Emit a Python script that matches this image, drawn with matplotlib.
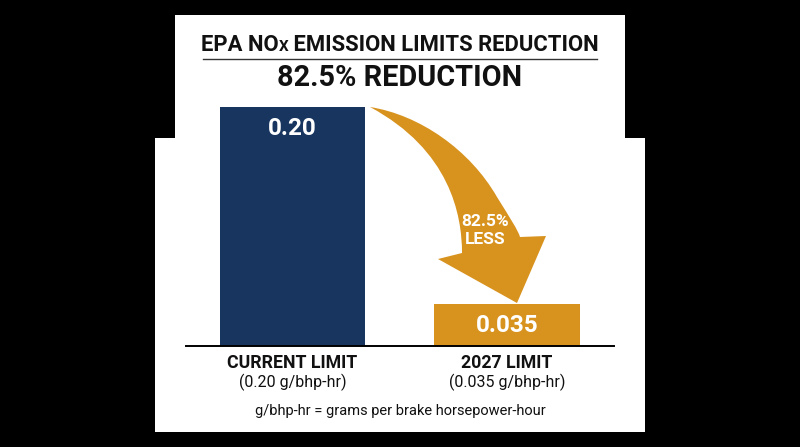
import numpy as np
import matplotlib.pyplot as plt
from matplotlib.patches import Polygon, PathPatch
from matplotlib.path import Path

plt.rcParams['font.family'] = ['Roboto', 'DejaVu Sans']

categories = ['CURRENT LIMIT', '2027 LIMIT']
sublabels = ['(0.20 g/bhp-hr)', '(0.035 g/bhp-hr)']
values = [0.20, 0.035]
value_labels = ['0.20', '0.035']
bar_colors = ['#17355f', '#d8931f']
reduction = 82.5

W, H = 800, 447
fig = plt.figure(figsize=(8, 4.47), dpi=100, facecolor='black')

# overlay axes in pixel coordinates (y down) for panel, arrow and texts
bg = fig.add_axes([0, 0, 1, 1])
bg.set_xlim(0, W)
bg.set_ylim(H, 0)
bg.axis('off')
bg.set_facecolor('black')
panel = [(175, 15), (625, 15), (625, 138), (645, 138), (645, 432),
         (155, 432), (155, 138), (175, 138)]
bg.add_patch(Polygon(panel, closed=True, facecolor='white', edgecolor='none', zorder=0))

# bar axes
ax = fig.add_axes([186 / W, 1 - 346 / H, (614 - 186) / W, (346 - 107) / H])
ax.patch.set_alpha(0)
x = np.arange(len(values))
ax.bar(x, values, width=0.68, color=bar_colors, zorder=2)
ax.set_xlim(-0.4965, 1.499)
ax.set_ylim(0, 0.2)
for s in ['top', 'right', 'left']:
    ax.spines[s].set_visible(False)
ax.spines['bottom'].set_linewidth(1.4)
ax.set_xticks([])
ax.set_yticks([])
for xi, v, lab in zip(x, values, value_labels):
    ax.annotate(lab, (xi, v), xytext=(0, -15.5), textcoords='offset points',
                ha='center', va='center', color='white', fontsize=17.5, fontweight='bold')
for xi, c, s in zip(x, categories, sublabels):
    ax.annotate(c, (xi, 0), xytext=(0, -12.5), textcoords='offset points',
                ha='center', va='center', color='#111111', fontsize=12.8, fontweight='bold')
    ax.annotate(s, (xi, 0), xytext=(0, -26), textcoords='offset points',
                ha='center', va='center', color='#111111', fontsize=11.5)

# curved arrow (pixel coords)
verts = [(370, 107),
         (420, 115), (470, 150), (497, 197),
         (510, 218), (518, 230), (520, 237),
         (546, 236), (517, 303), (438, 259), (462, 253),
         (462, 215), (450, 150), (370, 107)]
codes = [Path.MOVETO,
         Path.CURVE4, Path.CURVE4, Path.CURVE4,
         Path.CURVE4, Path.CURVE4, Path.CURVE4,
         Path.LINETO, Path.LINETO, Path.LINETO, Path.LINETO,
         Path.CURVE4, Path.CURVE4, Path.CURVE4]
bg.add_patch(PathPatch(Path(verts, codes), facecolor=bar_colors[1], edgecolor='none', zorder=3))
bg.text(485, 222, f'{reduction}%', ha='center', va='center', color='white',
        fontsize=12.5, fontweight='bold', zorder=4)
bg.text(485, 240, 'LESS', ha='center', va='center', color='white',
        fontsize=12.5, fontweight='bold', zorder=4)

# title with small X in NOx
renderer = fig.canvas.get_renderer()
parts = [('EPA NO', 15.8), ('X', 11), (' EMISSION LIMITS REDUCTION', 15.8)]
objs = []
for txt, fs in parts:
    t = bg.text(0, 51, txt, ha='left', va='baseline', color='#111111',
                fontsize=fs, fontweight='bold')
    objs.append(t)
widths = [t.get_window_extent(renderer).width for t in objs]
start = 400 - sum(widths) / 2
for t, w in zip(objs, widths):
    t.set_x(start)
    start += w
bg.plot([203, 597], [59, 59], color='#333333', lw=1.0)

bg.text(400, 78, f'{reduction}% REDUCTION', ha='center', va='center',
        color='#111111', fontsize=20.8, fontweight='bold')

bg.text(400, 411, 'g/bhp-hr = grams per brake horsepower-hour', ha='center',
        va='center', color='#111111', fontsize=10.5)

fig.savefig('out.png', dpi=100, facecolor='black')
